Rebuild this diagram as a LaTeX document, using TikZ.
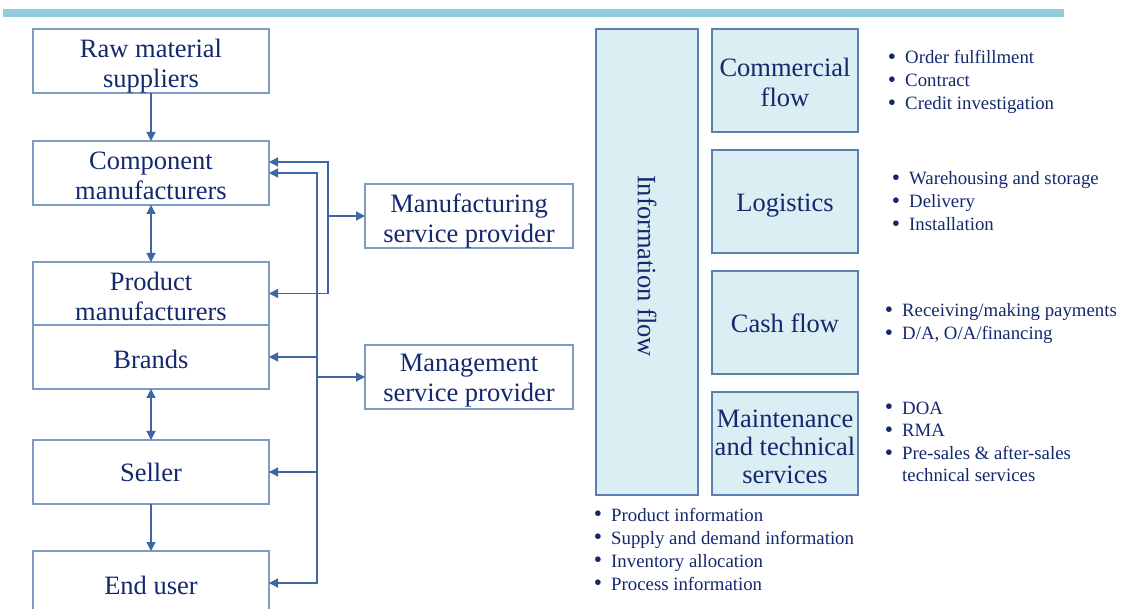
\documentclass[tikz,border=0pt]{standalone}
\usepackage{fontspec}
\usepackage{graphicx}
\setmainfont{Liberation Serif}
\usetikzlibrary{arrows.meta}
\definecolor{txt}{HTML}{14286E}
\definecolor{edgeA}{HTML}{7E9BC4}
\definecolor{edgeB}{HTML}{5B80B0}
\definecolor{fillB}{HTML}{DAEEF3}
\definecolor{barc}{HTML}{92CDDC}
\definecolor{link}{HTML}{3D66A2}
% bullet hung to the left of an item
\newcommand\blt{\llap{\raisebox{-0.5pt}{\scalebox{1.25}{\textbullet}}\hspace{9pt}}}
% box text, lowered a little inside its frame
\newcommand\bt[2][0pt]{\raisebox{-#1}[\height][\depth]{\begin{tabular}{@{}c@{}}#2\end{tabular}}}
\tikzset{
  box/.style={draw=edgeA, line width=1.3pt, minimum width=236pt, minimum height=64pt,
    inner sep=0pt, outer sep=0pt, text=txt, align=center,
    font=\fontsize{26.5}{30}\selectfont},
  sbox/.style={box, minimum width=208pt},
  flowbox/.style={box, draw=edgeB, fill=fillB, minimum width=146pt, minimum height=103pt},
  arr/.style={draw=link, line width=1.2pt, -{Triangle[length=9pt,width=9pt]}},
  dbl/.style={draw=link, line width=1.2pt, {Triangle[length=9pt,width=9pt]}-{Triangle[length=9pt,width=9pt]}},
  bullets/.style={anchor=base west, inner sep=0pt, text=txt, font=\fontsize{18.8}{23}\selectfont}
}
\begin{document}
\begin{tikzpicture}[x=1pt, y=-1pt]
\useasboundingbox (0,0) rectangle (1122,609);

% top rule
\fill[barc] (3,9) rectangle (1064,17);

% supply chain column
\node[box] (raw)    at (151,61)    {\bt[6pt]{Raw material\\suppliers}};
\node[box] (comp)   at (151,173)   {\bt[6pt]{Component\\manufacturers}};
\node[box, minimum height=63pt] (prod) at (151,293.5) {\bt[6pt]{Product\\manufacturers}};
\node[box] (brand)  at (151,357)   {\bt[6pt]{Brands}};
\node[box] (seller) at (151,472)   {\bt[3pt]{Seller}};
\node[box] (enduser) at (151,583)  {\bt[5pt]{End user}};

% service providers
\node[sbox] (mfg)  at (469,216) {\bt[6pt]{Manufacturing\\service provider}};
\node[sbox] (mgmt) at (469,377) {\bt[3.5pt]{Management\\service provider}};

% links along the chain
\draw[arr] (raw) -- (comp);
\draw[dbl] (comp) -- (prod);
\draw[dbl] (brand) -- (seller);
\draw[arr] (seller) -- (enduser);

% manufacturing service links
\coordinate (fj) at (328,216);
\draw[arr] (fj) -- (mfg.west);
\draw[arr] (fj) |- ([yshift=11pt]comp.east);
\draw[arr] (fj) |- (prod.east);

% management service links
\coordinate (mj) at (317,377);
\draw[arr] (mj) -- (mgmt.west);
\draw[arr] (mj) |- (comp.east);
\draw[arr] (mj) |- (brand.east);
\draw[arr] (mj) |- (seller.east);
\draw[arr] (mj) |- (enduser.east);

% flows
\node[box, draw=edgeB, fill=fillB, rotate=-90, minimum width=466pt, minimum height=102pt]
  (info) at (647,262) {\hspace*{8pt}Information flow};
\node[flowbox] (comm) at (785,80.5)  {\bt[5pt]{Commercial\\flow}};
\node[flowbox] (logi) at (785,201.5) {\bt[4pt]{Logistics}};
\node[flowbox] (cash) at (785,322.5) {\bt[4pt]{Cash flow}};
\node[flowbox, font=\fontsize{26.5}{28}\selectfont] (main) at (785,443.5)
  {\bt[6pt]{Maintenance\\and technical\\services}};

% item lists
\node[bullets] (commlist) at (905,64) {\begin{tabular}[t]{@{}l@{}}
  \blt Order fulfillment\\ \blt Contract\\ \blt Credit investigation\end{tabular}};
\node[bullets] (logilist) at (909,185) {\begin{tabular}[t]{@{}l@{}}
  \blt Warehousing and storage\\ \blt Delivery\\ \blt Installation\end{tabular}};
\node[bullets] (cashlist) at (902,317) {\begin{tabular}[t]{@{}l@{}}
  \blt Receiving/making payments\\ \blt D/A, O/A/financing\end{tabular}};
\node[bullets] (mainlist) at (902,414) {\begin{tabular}[t]{@{}l@{}}
  \blt DOA\\ \blt RMA\\ \blt Pre-sales \& after-sales\\[-1pt] technical services\end{tabular}};
\node[bullets] (infolist) at (611,521) {\begin{tabular}[t]{@{}l@{}}
  \blt Product information\\ \blt Supply and demand information\\
  \blt Inventory allocation\\ \blt Process information\end{tabular}};
\end{tikzpicture}
\end{document}
